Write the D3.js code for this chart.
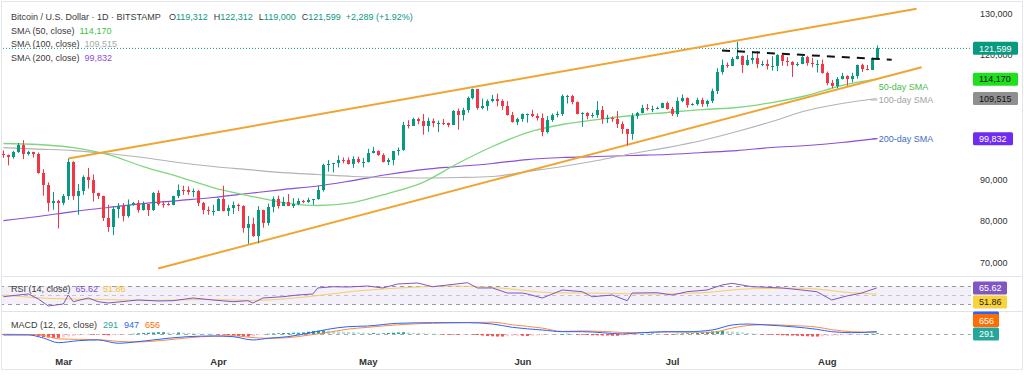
<!DOCTYPE html>
<html>
<head>
<meta charset="utf-8">
<script src="https://cdn.jsdelivr.net/npm/d3@7"></script>
<style>
  html, body { margin: 0; padding: 0; background: #fff; }
  svg { display: block; font-family: "Liberation Sans", Arial, sans-serif; }
</style>
</head>
<body>
<svg id="chart" width="1024" height="376"></svg>
<script>
// daily BTC/USD candles, first one on startDate
var startDate = '2025-02-17';
var opens = [96100,95800,95500,96600,98300,96100,96600,96100,91500,88700,84300,84700,84400,86000,94300,86100,87200,90600,89900,86700,86100,80700,78500,82900,83700,81100,83900,84300,82600,84000,82700,86800,84200,84000,83800,86100,87500,87400,86900,87200,84300,82600,82300,82500,85200,82500,83100,83800,83500,78400,79200,76300,82600,79600,83400,85300,83700,84500,83600,84000,84900,84500,85000,85200,87500,93400,93700,93900,94700,94600,93800,94900,94200,94200,96500,96900,95900,94300,94700,96800,97000,103200,102900,104600,104100,102800,104200,103500,103700,103500,103200,106500,105600,106800,109600,111700,107300,107800,109000,109400,108900,107800,105600,103900,104600,105700,105800,105400,104700,101500,104300,105600,105700,110200,110200,108600,105900,106000,105400,105600,106800,104600,104900,104600,103300,102100,100900,105400,106000,107300,106900,107100,107300,108400,107100,105700,108800,109600,108000,108200,109200,108300,108900,111300,115900,117500,117400,119100,119800,117700,118700,119300,117900,117900,117300,117400,119900,118600,118300,117600,117900,119400,118000,117800,117800,115700,113300,112500,114200,115000,114100,115000,117500,116700,116500,119312];
var highs = [97000,96000,96900,98800,99500,96900,96700,96500,92500,89300,87000,85100,86500,95000,94400,88900,91000,92800,91200,86800,86100,83900,83600,84300,84300,85200,84600,85000,84700,84000,87000,87400,84800,84500,86100,88800,88500,88300,87800,87500,84600,83500,83900,85500,88500,83900,84700,84200,83800,81200,80800,83600,82700,84200,85900,86100,85800,86500,85500,85500,85100,85600,85300,88500,93800,94700,94000,95800,95300,95300,95600,95500,95200,97400,97900,97000,96300,95200,96900,97700,103900,104300,104900,104900,105800,104900,104700,104200,104600,103700,106700,107100,107300,110000,111900,111800,109500,109300,110400,110700,109300,108900,106300,104900,105900,105900,106800,105900,105900,105300,105900,106400,110500,110400,110400,108800,106200,106200,106100,108900,107700,105600,105200,106500,104000,102200,106000,106300,108000,108200,107800,107600,108500,108800,107500,109800,110500,109800,108400,109700,109700,109200,111900,116800,118900,118200,119500,123200,119900,120000,120900,120900,118600,118900,119700,120200,120100,119500,118500,118300,119800,119800,119300,118800,118900,116000,114000,114700,115700,115100,115700,117700,117900,117600,119400,122312];
var lows = [95200,93400,95000,96400,94900,95800,95300,91400,86100,82300,82700,78200,83800,85100,85100,81500,86300,87800,84700,85300,80000,77400,76600,80700,79900,80800,83700,82000,82500,81200,82400,83700,83200,83700,83800,85500,86300,86300,85800,83600,81600,81500,81300,82400,82300,81200,81700,82400,77200,74500,76200,74600,78400,78900,82100,83000,83700,83600,83100,83800,84300,84400,83900,85100,87100,91900,91700,92900,93900,93600,92800,93900,92900,94100,96300,95700,94100,93500,93400,95800,96900,102300,102900,103300,100800,101500,102600,101400,103100,102600,103100,102000,104200,106100,109300,106800,106900,106600,108600,107600,106800,105400,103700,103100,103900,103700,105000,104200,100400,101100,103900,105000,105300,108300,108100,105700,102700,104500,104900,104900,103400,103600,103900,102400,101000,98200,99600,104600,105900,106600,106200,106900,107200,106800,105300,105100,108600,107300,107800,107800,107500,107500,108400,110600,115300,116900,117300,118900,115700,117400,117900,116800,117300,116500,116200,116100,117400,117300,114700,117300,117800,117400,117000,115800,115500,112700,112000,112000,114100,112600,113400,114300,115900,116300,116500,119000];
var closes = [95800,95500,96600,98300,96100,96600,96100,91500,88700,84300,84700,84400,86000,94300,86100,87200,90600,89900,86700,86100,80700,78500,82900,83700,81100,83900,84300,82600,84000,82700,86800,84200,84000,83800,86100,87500,87400,86900,87200,84300,82600,82300,82500,85200,82500,83100,83800,83500,78400,79200,76300,82600,79600,83400,85300,83700,84500,83600,84000,84900,84500,85000,85200,87500,93400,93700,93900,94700,94600,93800,94900,94200,94200,96500,96900,95900,94300,94700,96800,97000,103200,102900,104600,104100,102800,104200,103500,103700,103500,103200,106500,105600,106800,109600,111700,107300,107800,109000,109400,108900,107800,105600,103900,104600,105700,105800,105400,104700,101500,104300,105600,105700,110200,110200,108600,105900,106000,105400,105600,106800,104600,104900,104600,103300,102100,100900,105400,106000,107300,106900,107100,107300,108400,107100,105700,108800,109600,108000,108200,109200,108300,108900,111300,115900,117500,117400,119100,119800,117700,118700,119300,117900,117900,117300,117400,119900,118600,118300,117600,117900,119400,118000,117800,117800,115700,113300,112500,114200,115000,114100,115000,117500,116700,116500,119310,121599];

// moving averages
var smaDates = ['2025-02-17','2025-02-24','2025-03-03','2025-03-10','2025-03-17','2025-03-24','2025-03-31','2025-04-07','2025-04-14','2025-04-21','2025-04-28','2025-05-05','2025-05-12','2025-05-19','2025-05-26','2025-06-02','2025-06-09','2025-06-16','2025-06-23','2025-06-30','2025-07-07','2025-07-14','2025-07-21','2025-07-28','2025-08-04','2025-08-11'];
var sma50 = [98670,98430,97700,96020,93130,90720,88070,86140,84450,83730,84450,86620,89270,93850,97950,101320,103250,104450,105420,106140,106860,107350,108550,110240,112650,114170];
var sma100 = [97700,97340,96980,96260,95300,94090,93130,92400,91680,91200,90720,90480,90360,90480,90720,91920,93130,94570,96260,97700,99390,101560,103970,106620,108310,109515];
var sma200 = [80110,81080,82280,83250,84210,84930,85660,86620,87580,88430,89750,91200,92400,93130,93850,94810,95300,95540,95780,96020,96500,96980,97710,98190,98910,99832];

// drawn trend lines [date, price]
var upperChannel = [['2025-03-02', 95050], ['2025-08-19', 131130]];
var lowerChannel = [['2025-03-20', 68550], ['2025-08-20', 117060]];
var resistance = [['2025-07-11', 121080], ['2025-08-14', 118850]];

// RSI (14) and its MA, day number counted from startDate
var rsiDays = [0,3,5,7,9,12,13,14,17,19,21,25,27,31,34,38,42,46,49,50,52,56,59,62,63,66,69,73,76,79,83,86,89,93,95,98,101,104,105,108,112,116,118,122,125,126,131,134,137,141,144,146,150,153,156,160,163,166,169,172,175];
var rsiVals = [46.2,50,52.2,41.1,25.6,30,50,35.1,43.3,35.1,32.2,36.7,38.9,36.7,37.3,43.3,38.9,35.1,37.3,32.2,43.3,46.2,50,52.2,65.6,68.4,67.8,70,65.6,74.4,76.7,68.4,72.2,77.3,65.6,65.6,54.4,54.4,52.2,43.3,61.1,57.3,46.2,50,37.3,54.4,55.1,50,57.3,61.1,72.2,76,68.4,67.1,65.6,61.1,57.3,38.9,47.8,54.4,65.62];
var rsiMaDays = [0,10,20,30,40,50,60,70,80,90,100,110,120,130,140,150,160,170,175];
var rsiMaVals = [50,42,40,38,40,38,45,58,66,70,65,55,54,52,55,64,65,55,51.86];

// MACD (12, 26)
var macdDays = [0,5,8,11,15,19,23,27,33,37,42,46,50,53,57,61,65,69,73,79,86,93,98,102,108,112,116,120,124,128,133,137,142,146,149,153,158,163,166,170,175];
var macdVals = [-390,-390,-1560,-3390,-2610,-2340,-3630,-3000,-1680,-1050,-780,-1050,-2340,-1680,-1050,270,1830,2850,3120,4170,4410,4410,3900,2610,1560,900,900,510,0,510,900,900,1560,3510,3900,3510,2850,1830,900,510,947];
var signalVals = [-100,-200,-600,-1900,-2100,-2200,-2900,-3100,-2300,-1500,-850,-700,-1400,-1700,-1450,-500,600,1900,2600,3600,4200,4500,4600,3600,2300,1000,1200,1000,600,500,800,700,700,2300,3300,3650,3300,2700,1700,900,656];
var histVals = [-200,-300,-300,-250,-300,-400,-600,-900,-1200,-1400,-1500,-1500,-1300,-1000,-800,-500,-400,-300,-300,-200,-400,-500,-400,-300,-200,-100,100,300,400,500,600,700,700,600,500,600,500,400,300,200,150,100,50,-100,-200,-400,-600,-800,-900,-1000,-800,-500,-200,100,200,300,400,400,500,500,600,900,1200,1300,1400,1300,1200,1000,900,800,700,600,500,400,400,300,300,400,500,600,700,600,500,400,300,200,100,0,-100,-200,-200,-300,-200,-100,-200,-400,-600,-800,-900,-1000,-1000,-900,-800,-700,-700,-800,-700,-600,-500,-300,-200,-100,0,100,0,-200,-300,-400,-500,-500,-600,-600,-700,-700,-600,-500,-300,-100,0,100,200,100,0,-100,0,100,200,300,300,400,600,800,1000,1100,1200,1100,1000,800,600,400,200,100,-100,-200,-300,-400,-500,-600,-600,-700,-800,-900,-1000,-1000,-900,-800,-700,-600,-500,-400,-300,-200,-100,0,100,291];

var priceTicks = [70000, 80000, 90000, 100000, 110000, 120000, 130000];
var monthTicks = ['2025-03-01','2025-04-01','2025-05-01','2025-06-01','2025-07-01','2025-08-01'];

var parse = d3.utcParse('%Y-%m-%d');
var firstDay = parse(startDate);
var days = closes.map(function (d, i) { return d3.utcDay.offset(firstDay, i); });
var dayAt = function (n) { return d3.utcDay.offset(firstDay, n); };

var plotR = 971;
var up = '#089981', down = '#f23645';
var last = closes.length - 1;

var svg = d3.select('#chart');

var x = d3.scaleTime()
  .domain([parse('2025-04-01'), parse('2025-08-01')])
  .range([218, 826.8]);
var y = d3.scaleLinear().domain([70000, 130000]).range([262.5, 13.5]);
var yRsi = d3.scaleLinear().domain([30, 70]).range([304, 286]);
var yMacd = d3.scaleLinear().domain([-4700, 8600]).range([346, 312]);

var defs = svg.append('defs');
defs.append('clipPath').attr('id', 'clipMain')
  .append('rect').attr('x', 2).attr('y', 3).attr('width', plotR - 2).attr('height', 273);
defs.append('clipPath').attr('id', 'clipRsi')
  .append('rect').attr('x', 2).attr('y', 277).attr('width', plotR - 2).attr('height', 34);
defs.append('clipPath').attr('id', 'clipMacd')
  .append('rect').attr('x', 2).attr('y', 312).attr('width', plotR - 2).attr('height', 34);

// frame and pane separators
svg.append('rect')
  .attr('x', 1.5).attr('y', 1.5).attr('width', 1021).attr('height', 368)
  .attr('fill', 'none').attr('stroke', '#e3e5ea');
[276.5, 311.5].forEach(function (yy) {
  svg.append('line').attr('x1', 2).attr('x2', 1022).attr('y1', yy).attr('y2', yy)
    .attr('stroke', '#e0e3eb');
});

// ---------- price pane ----------
var main = svg.append('g').attr('clip-path', 'url(#clipMain)');

var line = function (yScale) {
  return d3.line()
    .x(function (d) { return x(d[0]); })
    .y(function (d) { return yScale(d[1]); })
    .curve(d3.curveMonotoneX);
};

function smaPoints(vals) {
  return smaDates.map(function (s, i) { return [parse(s), vals[i]]; });
}

main.append('path').datum(smaPoints(sma200))
  .attr('d', line(y)).attr('fill', 'none').attr('stroke', '#8a4fd6').attr('stroke-width', 1.2);
main.append('path').datum(smaPoints(sma100))
  .attr('d', line(y)).attr('fill', 'none').attr('stroke', '#b3b3b3').attr('stroke-width', 1.2);
main.append('path').datum(smaPoints(sma50))
  .attr('d', line(y)).attr('fill', 'none').attr('stroke', '#7fd67f').attr('stroke-width', 1.3);

// last price dotted line
main.append('line')
  .attr('x1', 0).attr('x2', plotR)
  .attr('y1', y(closes[last])).attr('y2', y(closes[last]))
  .attr('stroke', up).attr('stroke-dasharray', '1,2');

function straight(pts) {
  return d3.line()
    .x(function (d) { return x(parse(d[0])); })
    .y(function (d) { return y(d[1]); })(pts);
}
[upperChannel, lowerChannel].forEach(function (pts) {
  main.append('path').attr('d', straight(pts))
    .attr('fill', 'none').attr('stroke', '#f0a431').attr('stroke-width', 2);
});

// candles
var candle = main.selectAll('g.candle')
  .data(days)
  .enter().append('g')
  .attr('class', 'candle');

candle.append('line')
  .attr('x1', function (d) { return Math.round(x(d)) + 0.5; })
  .attr('x2', function (d) { return Math.round(x(d)) + 0.5; })
  .attr('y1', function (d, i) { return y(highs[i]); })
  .attr('y2', function (d, i) { return y(lows[i]); })
  .attr('stroke', function (d, i) { return closes[i] >= opens[i] ? up : down; });

candle.append('rect')
  .attr('x', function (d) { return Math.round(x(d)) - 1; })
  .attr('width', 3)
  .attr('y', function (d, i) { return Math.min(y(opens[i]), y(closes[i])); })
  .attr('height', function (d, i) { return Math.max(1, Math.abs(y(opens[i]) - y(closes[i]))); })
  .attr('fill', function (d, i) { return closes[i] >= opens[i] ? up : down; })
  .attr('shape-rendering', 'crispEdges');

main.append('path').attr('d', straight(resistance))
  .attr('fill', 'none').attr('stroke', '#111').attr('stroke-width', 2)
  .attr('stroke-dasharray', '8,7');

// SMA labels at the right end
var endX = x(parse(smaDates[smaDates.length - 1]));
svg.append('text').attr('x', endX + 2).attr('y', y(sma50[sma50.length - 1]) + 11)
  .attr('font-size', 9).attr('fill', '#4cbb4c').text('50-day SMA');
svg.append('line').attr('x1', endX - 6).attr('x2', endX + 1)
  .attr('y1', y(sma100[sma100.length - 1]) + 1.5).attr('y2', y(sma100[sma100.length - 1]) + 1.5)
  .attr('stroke', '#b3b3b3');
svg.append('text').attr('x', endX + 2).attr('y', y(sma100[sma100.length - 1]) + 4.5)
  .attr('font-size', 9).attr('fill', '#a3a3a3').text('100-day SMA');
svg.append('line').attr('x1', endX - 4).attr('x2', endX + 1)
  .attr('y1', y(sma200[sma200.length - 1])).attr('y2', y(sma200[sma200.length - 1]))
  .attr('stroke', '#8a4fd6');
svg.append('text').attr('x', endX + 2).attr('y', y(sma200[sma200.length - 1]) + 3)
  .attr('font-size', 9).attr('fill', '#3f6cc4').text('200-day SMA');

// ---------- right side tags ----------
var tagY = [y(closes[last]), y(sma50[sma50.length - 1]), y(sma100[sma100.length - 1]), y(sma200[sma200.length - 1])];

// price axis, labels dropped where a value tag covers them entirely
var yAxis = svg.append('g')
  .attr('transform', 'translate(' + plotR + ',0)')
  .call(d3.axisRight(y).tickValues(priceTicks).tickFormat(d3.format(',')).tickSize(0).tickPadding(9));
yAxis.select('.domain').remove();
yAxis.selectAll('text').attr('font-size', 9).attr('fill', '#333').attr('font-family', 'Liberation Sans, Arial, sans-serif');
yAxis.selectAll('.tick').filter(function (v) {
  return tagY.some(function (t) { return Math.abs(y(v) - t) < 5; });
}).remove();

function tag(yc, label, bg, fg, w) {
  svg.append('rect').attr('x', 973).attr('y', yc - 6.5).attr('width', w).attr('height', 13)
    .attr('rx', 1.5).attr('fill', bg);
  if (label) {
    svg.append('text').attr('x', 979).attr('y', yc + 3.2).attr('font-size', 9)
      .attr('fill', fg).text(label);
  }
}
var fmt = d3.format(',');
tag(tagY[0], fmt(closes[last]), up, '#fff', 45);
tag(tagY[1], fmt(sma50[sma50.length - 1]), '#1ee01e', '#111', 45);
tag(tagY[2], fmt(sma100[sma100.length - 1]), '#8f8f8f', '#111', 45);
tag(tagY[3], fmt(sma200[sma200.length - 1]), '#6f2cf0', '#fff', 40);
tag(288, rsiVals[rsiVals.length - 1].toFixed(2), '#7e57c2', '#fff', 34);
tag(302, rsiMaVals[rsiMaVals.length - 1].toFixed(2), '#f8d33a', '#222', 34);
// MACD line tag sits almost fully under the signal tag
tag(318, null, '#2962ff', '#fff', 26);
tag(320.5, fmt(signalVals[signalVals.length - 1]), '#ff6d00', '#fff', 26);
tag(334, fmt(histVals[histVals.length - 1]), '#26a69a', '#fff', 26);

// ---------- RSI pane ----------
var rsi = svg.append('g').attr('clip-path', 'url(#clipRsi)');
rsi.append('rect')
  .attr('x', 0).attr('width', plotR)
  .attr('y', yRsi(70)).attr('height', yRsi(30) - yRsi(70))
  .attr('fill', '#7e57c2').attr('fill-opacity', 0.09);
[70, 50, 30].forEach(function (v) {
  rsi.append('line').attr('x1', 0).attr('x2', plotR)
    .attr('y1', Math.round(yRsi(v)) + 0.5).attr('y2', Math.round(yRsi(v)) + 0.5)
    .attr('stroke', v === 50 ? '#c4c4cc' : '#9a9aa3').attr('stroke-dasharray', '4,4');
});
var rsiLine = d3.line()
  .x(function (d) { return x(dayAt(d[0])); })
  .y(function (d) { return yRsi(d[1]); })
  .curve(d3.curveMonotoneX);
rsi.append('path').datum(rsiMaDays.map(function (d, i) { return [d, rsiMaVals[i]]; }))
  .attr('d', rsiLine).attr('fill', 'none').attr('stroke', '#f6cf62').attr('stroke-width', 1);
rsi.append('path').datum(rsiDays.map(function (d, i) { return [d, rsiVals[i]]; }))
  .attr('d', rsiLine.curve(d3.curveLinear)).attr('fill', 'none').attr('stroke', '#7e57c2').attr('stroke-width', 1);

// ---------- MACD pane ----------
var macd = svg.append('g').attr('clip-path', 'url(#clipMacd)');
macd.append('line').attr('x1', 0).attr('x2', plotR)
  .attr('y1', Math.round(yMacd(0)) + 0.5).attr('y2', Math.round(yMacd(0)) + 0.5)
  .attr('stroke', '#a8a8b0').attr('stroke-dasharray', '4,4');
macd.selectAll('rect.hist')
  .data(histVals)
  .enter().append('rect')
  .attr('class', 'hist')
  .attr('x', function (d, i) { return Math.round(x(days[i])) - 1; })
  .attr('width', 3)
  .attr('y', function (d) { return Math.min(yMacd(0), yMacd(d)); })
  .attr('height', function (d) { return Math.max(0.6, Math.abs(yMacd(d) - yMacd(0))); })
  .attr('fill', function (d, i) {
    var prev = i > 0 ? histVals[i - 1] : d;
    if (d >= 0) return d >= prev ? '#26a69a' : '#b2dfdb';
    return d <= prev ? '#ff5252' : '#ffcdd2';
  });
var macdLine = d3.line()
  .x(function (d) { return x(dayAt(d[0])); })
  .y(function (d) { return yMacd(d[1]); })
  .curve(d3.curveMonotoneX);
macd.append('path').datum(macdDays.map(function (d, i) { return [d, signalVals[i]]; }))
  .attr('d', macdLine).attr('fill', 'none').attr('stroke', '#ff8a3d').attr('stroke-width', 1);
macd.append('path').datum(macdDays.map(function (d, i) { return [d, macdVals[i]]; }))
  .attr('d', macdLine).attr('fill', 'none').attr('stroke', '#2962ff').attr('stroke-width', 1);

// ---------- time axis ----------
var xAxis = svg.append('g')
  .attr('transform', 'translate(0,352)')
  .call(d3.axisBottom(x).tickValues(monthTicks.map(parse)).tickFormat(d3.utcFormat('%b')).tickSize(0).tickPadding(6));
xAxis.select('.domain').remove();
xAxis.selectAll('text').attr('font-size', 9.5).attr('font-weight', 'bold').attr('fill', '#333')
  .attr('font-family', 'Liberation Sans, Arial, sans-serif');

// ---------- legends ----------
var dark = '#3a3a3a';
function legend(yy, parts) {
  var t = svg.append('text').attr('x', 11).attr('y', yy).attr('font-size', 9);
  parts.forEach(function (p) {
    t.append('tspan').attr('fill', p[1]).attr('dx', p[2] || 0).text(p[0]);
  });
}
var change = closes[last] - closes[last - 1];
var pct = change / closes[last - 1] * 100;
legend(19.5, [
  ['Bitcoin / U.S. Dollar \u00b7 1D \u00b7 BITSTAMP', dark],
  ['O', dark, 8], [fmt(opens[last]), up],
  ['H', dark, 6], [fmt(highs[last]), up],
  ['L', dark, 6], [fmt(lows[last]), up],
  ['C', dark, 6], [fmt(closes[last]), up],
  ['+' + fmt(change) + ' (+' + pct.toFixed(2) + '%)', up, 5]
]);
legend(33.5, [['SMA (50, close)', dark], [fmt(sma50[sma50.length - 1]), '#3cc13c', 5]]);
legend(47, [['SMA (100, close)', dark], [fmt(sma100[sma100.length - 1]), '#a8a8a8', 5]]);
legend(61, [['SMA (200, close)', dark], [fmt(sma200[sma200.length - 1]), '#8a4fd6', 5]]);
legend(292, [['RSI (14, close)', dark], [rsiVals[rsiVals.length - 1].toFixed(2), '#7e57c2', 5],
  [rsiMaVals[rsiMaVals.length - 1].toFixed(2), '#f2c531', 5]]);
legend(328, [['MACD (12, 26, close)', dark], [fmt(histVals[histVals.length - 1]), '#26a69a', 6],
  [fmt(macdVals[macdVals.length - 1]), '#2962ff', 6], [fmt(signalVals[signalVals.length - 1]), '#ff6d00', 6]]);
</script>
</body>
</html>
